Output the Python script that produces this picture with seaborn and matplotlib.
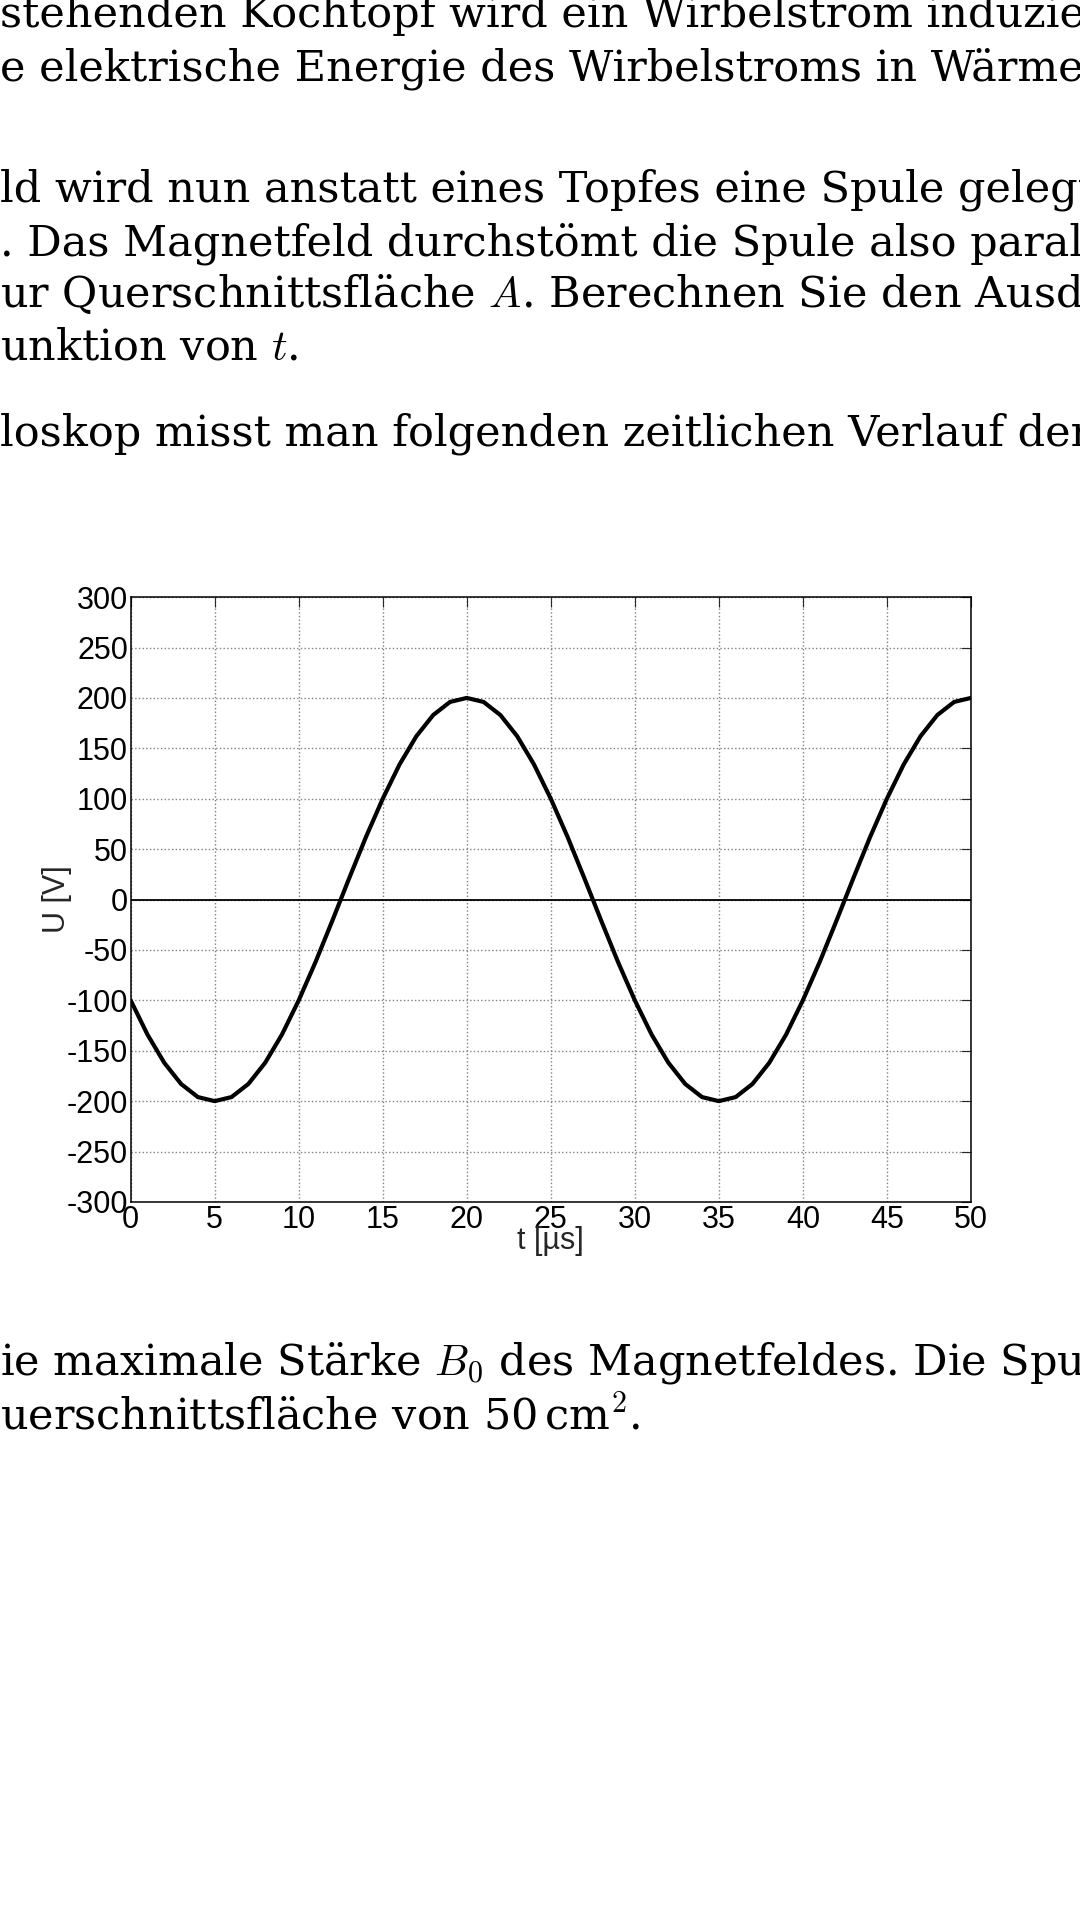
import matplotlib
matplotlib.use("Agg")
import matplotlib.pyplot as plt
import seaborn as sns
import pandas as pd

# values, 1 us steps
t_us = list(range(0, 51))
u_volt = [-100, -134, -162, -183, -196, -200, -196, -183, -162, -134,
          -100, -62, -21, 21, 62, 100, 134, 162, 183, 196,
          200, 196, 183, 162, 134, 100, 62, 21, -21, -62,
          -100, -134, -162, -183, -196, -200, -196, -183, -162, -134,
          -100, -62, -21, 21, 62, 100, 134, 162, 183, 196, 200]
x_ticks = list(range(0, 51, 5))
y_ticks = list(range(-300, 301, 50))

text_above = [
    (0.008, "stehenden Kochtopf wird ein Wirbelstrom induziert. Der"),
    (0.036, "e elektrische Energie des Wirbelstroms in Wärmeenergie u"),
    (0.099, "ld wird nun anstatt eines Topfes eine Spule gelegt. Die S"),
    (0.127, ". Das Magnetfeld durchstömt die Spule also parallel zu de"),
    (0.153, r"ur Querschnittsfläche $A$. Berechnen Sie den Ausdruck für di"),
    (0.181, r"unktion von $t$."),
    (0.226, "loskop misst man folgenden zeitlichen Verlauf der induzi"),
]
text_below = [
    (0.710, r"ie maximale Stärke $B_0$ des Magnetfeldes. Die Spule hat 100"),
    (0.738, r"uerschnittsfläche von 50$\,$cm$^2$."),
]

sns.set_style("white")
plt.rcParams['font.family'] = ['Liberation Sans', 'DejaVu Sans']
plt.rcParams['mathtext.fontset'] = 'cm'
plt.rcParams['axes.unicode_minus'] = False

df = pd.DataFrame({"t": t_us, "U": u_volt})

fig = plt.figure(figsize=(10.8, 19.2), dpi=100)
ax = fig.add_axes([0.121, 0.374, 0.778, 0.315])

sns.lineplot(data=df, x="t", y="U", ax=ax, color="black", linewidth=3.0)
ax.axhline(0, color="black", linewidth=1.3)

ax.set_xlim(0, 50)
ax.set_ylim(-300, 300)
ax.set_xticks(x_ticks)
ax.set_yticks(y_ticks)
ax.grid(True, linestyle=":", color="gray", linewidth=1.0)
ax.tick_params(direction="in", top=True, right=True, labelsize=22,
               labelcolor="black", length=7, pad=2)
for s in ax.spines.values():
    s.set_color("black")
    s.set_linewidth(1.1)
ax.set_xlabel("t [µs]", fontsize=22, labelpad=-6)
ax.set_ylabel("U [V]", fontsize=22, labelpad=-4)

for y, s in text_above + text_below:
    fig.text(0.0, 1 - y, s, fontsize=31, family=['DejaVu Serif'],
             ha="left", va="center", color="black")

fig.savefig("out.png", dpi=100, facecolor="white")
